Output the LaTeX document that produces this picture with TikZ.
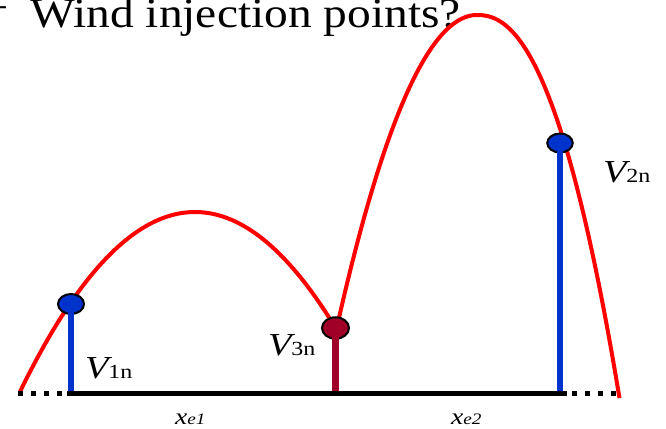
\documentclass[tikz,border=0pt]{standalone}
\usepackage{fontspec}
\setmainfont{Liberation Serif}
\usetikzlibrary{shapes.geometric}
\definecolor{curvered}{RGB}{255,0,0}
\definecolor{injblue}{RGB}{0,51,204}
\definecolor{injdark}{RGB}{160,0,40}
\newcommand\hstretch[2]{\scalebox{#1}[1]{#2}}
\newcommand\vlabel[1]{\hstretch{1.2}{{\fontsize{32}{32}\selectfont\itshape V}{\fontsize{20}{20}\selectfont #1}}}
\newcommand\xlabel[1]{\hstretch{1.2}{{\fontsize{23}{23}\selectfont\itshape x}{\fontsize{16}{16}\selectfont\itshape #1}}}
\begin{document}
\begin{tikzpicture}[x=1pt,y=-1pt,
  curve/.style={draw=curvered, line width=4pt},
  dotnode/.style={ellipse, draw=black, line width=2pt, inner sep=0pt},
  stem/.style={line width=6pt},
  lbl/.style={anchor=base west, inner sep=0pt, outer sep=0pt},
  axisline/.style={line width=5.5pt},
  dottedaxis/.style={line width=5.5pt, dash pattern=on 5pt off 8pt}]
\useasboundingbox (0,0) rectangle (666,428);

% title
\node[lbl] (title) at (-17,28) {\hstretch{1.13}{\fontsize{42}{42}\selectfont\raisebox{10.5pt}{–}\hspace{21pt}Wind injection points?}};

% curves
\draw[curve] plot[domain=20:332, samples=90] (\x, {212+58.7*((\x-195)/100)*((\x-195)/100)});
\draw[curve] plot[domain=339:477, samples=70] (\x, {15+159*((477-\x)/100)*((477-\x)/100)})
  -- plot[domain=477:619.5, samples=70] (\x, {15+172.7*((\x-477)/100)*((\x-477)/100)*sqrt(sqrt((\x-477)/100))});

% points
\node[dotnode, fill=injblue, minimum width=26pt, minimum height=20pt] (c1) at (71,304) {};
\node[dotnode, fill=injdark, minimum width=27pt, minimum height=21.5pt] (c3) at (335.5,328) {};
\node[dotnode, fill=injblue, minimum width=25.5pt, minimum height=19pt] (c2) at (560,143) {};

\coordinate (b1) at (71,393.5);
\coordinate (b3) at (335.5,393.5);
\coordinate (b2) at (560,393.5);
\coordinate (L0) at (18,393.5);
\coordinate (L1) at (67,393.5);
\coordinate (R1) at (567,393.5);
\coordinate (R2) at (572,393.5);
\coordinate (R0) at (619,393.5);

\draw[stem, draw=injblue] (c1.center) -- (b1);
\draw[stem, draw=injdark, line width=7pt] (c3.center) -- (b3);
\draw[stem, draw=injblue] (c2.center) -- (b2);

% axis
\draw[axisline] (L1) -- (R1);
\draw[dottedaxis] (L0) -- (L1);
\draw[dottedaxis] (R2) -- (R0);

% labels
\node[lbl] (v1) at (85,378) {\vlabel{1n}};
\node[lbl] (v3) at (268,355) {\vlabel{3n}};
\node[lbl] (v2) at (603,182) {\vlabel{2n}};
\node[lbl] (xe1) at (175,424) {\xlabel{e1}};
\node[lbl] (xe2) at (451,424) {\xlabel{e2}};
\end{tikzpicture}
\end{document}
